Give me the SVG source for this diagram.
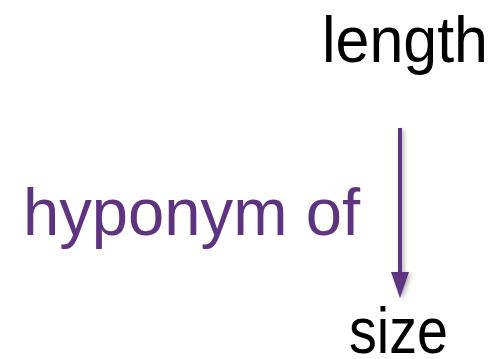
<svg xmlns="http://www.w3.org/2000/svg" width="498" height="359" viewBox="0 0 498 359">
  <style>
    .word { font-family: "Liberation Sans", Arial, sans-serif; font-size: 64px; fill: #000000; }
    .rel { fill: #5E3481; font-size: 66px; }
    .shaft { stroke: #5E3481; stroke-width: 4; }
    .tip { fill: #5E3481; }
  </style>
  <defs>
    <filter id="soft" x="-50%" y="-10%" width="200%" height="120%">
      <feDropShadow dx="2" dy="2" stdDeviation="2" flood-color="#000000" flood-opacity="0.3"/>
    </filter>
  </defs>
  <rect width="498" height="359" fill="#ffffff"/>

  <g id="node-length">
    <text class="word" x="322" y="62" textLength="166" lengthAdjust="spacingAndGlyphs">length</text>
  </g>

  <g id="node-size">
    <text class="word" x="349" y="353" textLength="99" lengthAdjust="spacingAndGlyphs">size</text>
  </g>

  <g id="connectors">
    <g filter="url(#soft)">
      <line class="shaft" x1="400" y1="128" x2="400" y2="272"/>
      <path class="tip" d="M391,272 L409,272 L400,298 Z"/>
    </g>
    <text class="word rel" x="23" y="235" textLength="337" lengthAdjust="spacingAndGlyphs">hyponym of</text>
  </g>
</svg>
